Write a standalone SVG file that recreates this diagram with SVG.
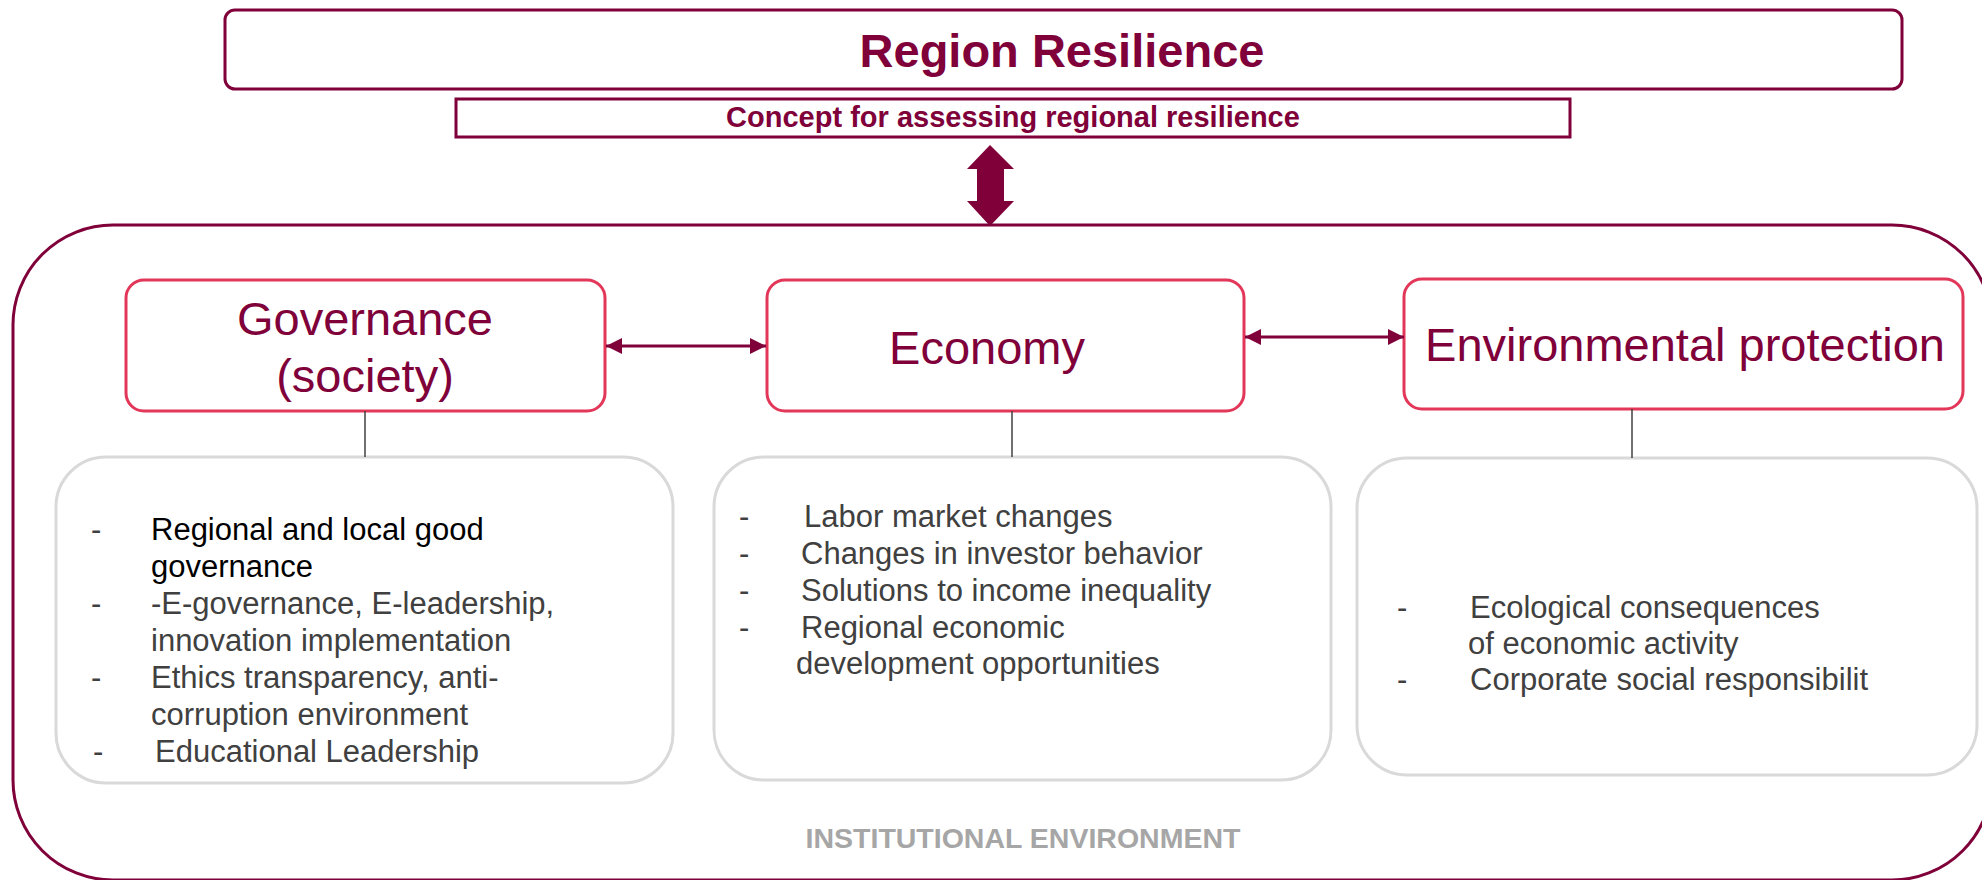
<svg xmlns="http://www.w3.org/2000/svg" width="1982" height="880" viewBox="0 0 1982 880">
<style>
.title{font-family:"Liberation Sans",Arial,sans-serif;font-weight:bold;fill:#80003A;text-anchor:middle}
.head{font-family:"Liberation Sans",Arial,sans-serif;font-size:47px;fill:#80003A;text-anchor:middle}
.item{font-family:"Liberation Sans",Arial,sans-serif;font-size:31px;fill:#404040}
.node{fill:#fff;stroke:#E3375A;stroke-width:3}
.card{fill:#fff;stroke:#D9D9D9;stroke-width:3}
.conn{stroke:#80003A;stroke-width:3;fill:none}
.tick{stroke:#404040;stroke-width:1.5}
</style>
<defs>
<marker id="ah" markerUnits="userSpaceOnUse" markerWidth="17" markerHeight="16" refX="16" refY="8" orient="auto-start-reverse">
<path d="M0,0 L16,8 L0,16 Z" fill="#80003A"/>
</marker>
</defs>
<rect width="1982" height="880" fill="#fff"/>

<g id="institutional-environment">
<rect x="13" y="225" width="1979" height="655" rx="100" ry="100" fill="none" stroke="#80003A" stroke-width="3"/>
<text x="1023" y="848" font-family="Liberation Sans,Arial,sans-serif" font-weight="bold" font-size="28.5" fill="#A6A6A6" text-anchor="middle">INSTITUTIONAL ENVIRONMENT</text>
</g>

<g id="region-resilience">
<rect x="225" y="10" width="1677" height="79" rx="10" fill="#fff" stroke="#80003A" stroke-width="3"/>
<text class="title" x="1062" y="67" font-size="47">Region Resilience</text>
</g>

<g id="concept">
<rect x="456" y="99" width="1114" height="38" fill="#fff" stroke="#80003A" stroke-width="3"/>
<text class="title" x="1013" y="127" font-size="29">Concept for assessing regional resilience</text>
</g>

<g id="governance">
<rect class="node" x="126" y="280" width="479" height="131" rx="18"/>
<text class="head" x="365" y="335">Governance</text>
<text class="head" x="365" y="392">(society)</text>
</g>

<g id="economy">
<rect class="node" x="767" y="280" width="477" height="131" rx="18"/>
<text class="head" x="987" y="364" font-size="46.5">Economy</text>
</g>

<g id="environmental-protection">
<rect class="node" x="1404" y="279" width="559" height="130" rx="18"/>
<text class="head" x="1685" y="361">Environmental protection</text>
</g>

<g id="governance-items">
<rect class="card" x="56" y="457" width="617" height="326" rx="50"/>
<text class="item" x="91" y="540">-</text>
<text class="item" x="151" y="540" style="fill:#000">Regional and local good</text>
<text class="item" x="151" y="577" style="fill:#000">governance</text>
<text class="item" x="91" y="614">-</text>
<text class="item" x="151" y="614">-E-governance, E-leadership,</text>
<text class="item" x="151" y="651">innovation implementation</text>
<text class="item" x="91" y="688">-</text>
<text class="item" x="151" y="688">Ethics transparency, anti-</text>
<text class="item" x="151" y="725">corruption environment</text>
<text class="item" x="93" y="762">-</text>
<text class="item" x="155" y="762">Educational Leadership</text>
</g>

<g id="economy-items">
<rect class="card" x="714" y="457" width="617" height="323" rx="50"/>
<text class="item" x="739" y="527">-</text>
<text class="item" x="804" y="527">Labor market changes</text>
<text class="item" x="739" y="564">-</text>
<text class="item" x="801" y="564">Changes in investor behavior</text>
<text class="item" x="739" y="601">-</text>
<text class="item" x="801" y="601">Solutions to income inequality</text>
<text class="item" x="739" y="638">-</text>
<text class="item" x="801" y="638">Regional economic</text>
<text class="item" x="796" y="674">development opportunities</text>
</g>

<g id="environment-items">
<rect class="card" x="1357" y="458" width="620" height="317" rx="50"/>
<text class="item" x="1397" y="618">-</text>
<text class="item" x="1470" y="618">Ecological consequences</text>
<text class="item" x="1468" y="654">of economic activity</text>
<text class="item" x="1397" y="690">-</text>
<text class="item" x="1470" y="690">Corporate social responsibilit</text>
</g>

<g id="connectors">
<polygon points="990,145 1014,169 1004,169 1004,201 1014,201 990,226 967,201 977,201 977,169 967,169" fill="#80003A"/>
<line class="conn" x1="606" y1="346" x2="766" y2="346" marker-start="url(#ah)" marker-end="url(#ah)"/>
<line class="conn" x1="1245" y1="337" x2="1404" y2="337" marker-start="url(#ah)" marker-end="url(#ah)"/>
<line class="tick" x1="365" y1="411" x2="365" y2="457"/>
<line class="tick" x1="1012" y1="411" x2="1012" y2="457"/>
<line class="tick" x1="1632" y1="409" x2="1632" y2="458"/>
</g>
</svg>
